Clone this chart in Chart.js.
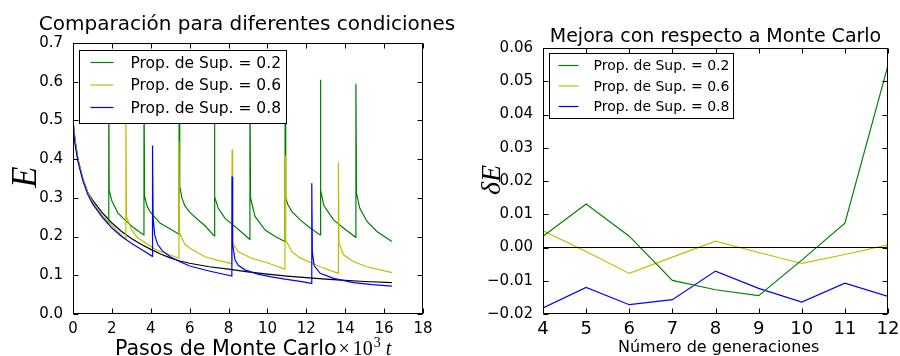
<!DOCTYPE html>
<html lang="es">
<head>
    <meta charset="UTF-8">
    <title>Comparación para diferentes condiciones</title>
    <style>
        body { margin: 0; background: #fff; }
        #wrap { position: relative; width: 900px; height: 356px; }
        canvas { position: absolute; top: 0; }
        #izq { left: 0; }
        #der { left: 460px; }
    </style>
</head>
<body>

<div id="wrap">
    <canvas id="izq" width="470" height="356"></canvas>
    <canvas id="der" width="440" height="356"></canvas>
</div>

<script src="https://cdn.jsdelivr.net/npm/chart.js"></script>

<script>
    // ---- panel izquierdo: E contra pasos de Monte Carlo (x10^3) ----
    const pasos_02 = [0, 0.1, 0.25, 0.5, 0.75, 1.0, 1.25, 1.5, 1.83,
        1.84, 1.86, 2.0, 2.3, 2.58, 3.09, 3.64,
        3.65, 3.68, 3.8, 3.95, 4.47, 4.98, 5.45,
        5.46, 5.49, 5.6, 5.75, 6.0, 6.44, 6.79, 7.26,
        7.27, 7.3, 7.47, 7.82, 8.33, 8.7, 9.09,
        9.1, 9.13, 9.36, 9.88, 10.4, 10.9,
        10.91, 10.94, 11.05, 11.25, 11.68, 12.2, 12.71,
        12.72, 12.75, 12.9, 13.4, 13.91, 14.54,
        14.55, 14.58, 14.75, 15.12, 15.63, 16.4];
    const energia_02 = [0.50, 0.45, 0.40, 0.35, 0.315, 0.29, 0.27, 0.255, 0.233,
        0.64, 0.32, 0.292, 0.262, 0.247, 0.224, 0.204,
        0.63, 0.305, 0.28, 0.265, 0.235, 0.220, 0.206,
        0.62, 0.33, 0.30, 0.28, 0.263, 0.243, 0.228, 0.202,
        0.615, 0.303, 0.273, 0.247, 0.226, 0.21, 0.193,
        0.61, 0.30, 0.252, 0.217, 0.20, 0.187,
        0.608, 0.30, 0.283, 0.265, 0.243, 0.222, 0.204,
        0.605, 0.32, 0.28, 0.243, 0.222, 0.198,
        0.595, 0.312, 0.273, 0.239, 0.213, 0.187];

    const pasos_06 = [0, 0.1, 0.25, 0.5, 0.75, 1.0, 1.5, 2.0, 2.4, 2.71,
        2.72, 2.75, 3.01, 3.3, 3.61, 4.3, 4.98, 5.44,
        5.45, 5.48, 5.75, 6.01, 6.79, 7.5, 8.17,
        8.18, 8.21, 8.5, 9.19, 10.05, 10.9,
        10.91, 10.94, 11.25, 11.68, 12.71, 13.64,
        13.65, 13.68, 13.91, 14.43, 15.12, 16.4];
    const energia_06 = [0.50, 0.45, 0.40, 0.35, 0.315, 0.29, 0.255, 0.228, 0.208, 0.193,
        0.52, 0.252, 0.217, 0.198, 0.187, 0.165, 0.153, 0.144,
        0.445, 0.209, 0.180, 0.170, 0.148, 0.138, 0.130,
        0.425, 0.183, 0.161, 0.144, 0.131, 0.116,
        0.41, 0.191, 0.161, 0.145, 0.122, 0.105,
        0.391, 0.183, 0.153, 0.135, 0.122, 0.107];

    const pasos_08 = [0, 0.1, 0.25, 0.5, 0.75, 1.0, 1.5, 2.0, 2.5, 3.0, 3.5, 4.08,
        4.09, 4.12, 4.2, 4.35, 4.6, 5.0, 5.5, 6.0, 7.0, 8.17,
        8.18, 8.21, 8.33, 8.5, 8.84, 9.5, 10.2, 10.9, 11.6, 12.27,
        12.28, 12.31, 12.4, 12.71, 13.4, 14.43, 15.4, 16.4];
    const energia_08 = [0.49, 0.44, 0.395, 0.345, 0.31, 0.285, 0.25, 0.222, 0.20, 0.183, 0.167, 0.149,
        0.435, 0.25, 0.205, 0.18, 0.163, 0.148, 0.135, 0.124, 0.111, 0.098,
        0.355, 0.18, 0.14, 0.126, 0.114, 0.103, 0.096, 0.090, 0.085, 0.079,
        0.338, 0.16, 0.125, 0.105, 0.092, 0.081, 0.076, 0.072];

    const pasos_mc = [0, 0.1, 0.25, 0.5, 0.75, 1.0, 1.25, 1.5, 2.0, 2.5, 3.0, 3.5, 4.0, 4.5, 5.0,
        5.5, 6.0, 7.0, 8.0, 9.0, 10.0, 11.0, 12.0, 13.0, 14.0, 15.0, 16.4];
    const energia_mc = [0.50, 0.45, 0.40, 0.35, 0.315, 0.295, 0.278, 0.262, 0.235, 0.213, 0.195, 0.180,
        0.167, 0.155, 0.145, 0.137, 0.131, 0.122, 0.116, 0.109, 0.103, 0.098, 0.094, 0.090,
        0.087, 0.084, 0.081];

    // ---- panel derecho: mejora respecto a Monte Carlo ----
    const generaciones = [4, 5, 6, 7, 8, 9, 10, 11, 12];
    const mejora_02 = [0.0034, 0.0131, 0.0034, -0.0099, -0.0127, -0.0145, -0.0038, 0.0073, 0.0548];
    const mejora_06 = [0.0050, -0.0012, -0.0078, -0.0029, 0.0019, -0.0015, -0.0048, -0.0021, 0.0008];
    const mejora_08 = [-0.0182, -0.0120, -0.0172, -0.0157, -0.0071, -0.0123, -0.0164, -0.0107, -0.0147];
    const base_gen = [4, 12];
    const base_mejora = [0, 0];

    const etiquetas = ['Prop. de Sup. = 0.2', 'Prop. de Sup. = 0.6', 'Prop. de Sup. = 0.8'];
    const colores = ['#008000', '#bfbf00', '#0000ff'];

    const puntos = (xs, ys) => xs.map((x, i) => ({x: x, y: ys[i]}));

    function linea(label, xs, ys, color, order, enLeyenda) {
        return {
            label: label, data: puntos(xs, ys), borderColor: color, backgroundColor: color,
            borderWidth: 1.2, pointRadius: 0, tension: 0, fill: false, order: order, enLeyenda: enLeyenda
        };
    }

    // marco, ticks hacia dentro, titulo, leyenda y etiquetas de ejes
    const marco = {
        id: 'marco',
        afterDraw(chart, args, o) {
            const {ctx, chartArea: a, scales} = chart;
            const L = Math.round(a.left) + 0.5, R = Math.round(a.right) - 0.5;
            const T = Math.round(a.top) + 0.5, B = Math.round(a.bottom) - 0.5;
            ctx.save();
            ctx.strokeStyle = '#000';
            ctx.lineWidth = 1;
            ctx.beginPath();
            scales.x.ticks.forEach(t => {
                const p = Math.round(scales.x.getPixelForValue(t.value)) + 0.5;
                ctx.moveTo(p, B); ctx.lineTo(p, B - 5);
                ctx.moveTo(p, T); ctx.lineTo(p, T + 5);
            });
            scales.y.ticks.forEach(t => {
                const p = Math.round(scales.y.getPixelForValue(t.value)) + 0.5;
                ctx.moveTo(L, p); ctx.lineTo(L + 5, p);
                ctx.moveTo(R, p); ctx.lineTo(R - 5, p);
            });
            ctx.stroke();
            ctx.strokeRect(L, T, R - L, B - T);

            // leyenda
            const lg = o.leyenda;
            const lx = Math.round(a.left + lg.x) + 0.5, ly = Math.round(a.top + lg.y) + 0.5;
            ctx.fillStyle = '#fff';
            ctx.fillRect(lx, ly, lg.w, lg.h);
            ctx.strokeRect(lx, ly, lg.w, lg.h);
            ctx.font = lg.font;
            ctx.textAlign = 'left';
            ctx.textBaseline = 'middle';
            chart.data.datasets.filter(d => d.enLeyenda).forEach((d, i) => {
                const yy = ly + lg.primera + i * lg.paso;
                ctx.strokeStyle = d.borderColor;
                ctx.lineWidth = 1.2;
                ctx.beginPath();
                ctx.moveTo(lx + lg.l0, yy); ctx.lineTo(lx + lg.l1, yy);
                ctx.stroke();
                ctx.fillStyle = '#000';
                ctx.fillText(d.label, lx + lg.tx, yy + 1);
            });

            // titulo
            ctx.fillStyle = '#000';
            ctx.textAlign = 'center';
            ctx.textBaseline = 'alphabetic';
            ctx.font = o.titulo.font;
            ctx.fillText(o.titulo.texto, (a.left + a.right) / 2 + (o.titulo.dx || 0), o.titulo.y);

            // etiqueta x: partes encadenadas una tras otra
            ctx.textAlign = 'left';
            let cx = o.ejeX.x;
            o.ejeX.partes.forEach(p => {
                ctx.font = p.font;
                cx += p.gap || 0;
                ctx.fillText(p.texto, cx, o.ejeX.y + (p.dy || 0));
                cx += ctx.measureText(p.texto).width;
            });

            // etiqueta y (rotada)
            const ey = o.ejeY;
            ctx.translate(ey.x, ey.y);
            ctx.rotate(-Math.PI / 2);
            ctx.textAlign = 'center';
            ctx.font = ey.font;
            ctx.fillText(ey.texto, 0, 0);
            ctx.restore();
        }
    };

    const fuenteTicks = (size) => ({family: 'DejaVu Sans', size: size});

    new Chart(document.getElementById('izq'), {
        type: 'line',
        data: {
            datasets: [
                linea(etiquetas[0], pasos_02, energia_02, colores[0], 2, true),
                linea(etiquetas[1], pasos_06, energia_06, colores[1], 1, true),
                linea(etiquetas[2], pasos_08, energia_08, colores[2], 0, true),
                linea('Monte Carlo', pasos_mc, energia_mc, '#000000', 3, false),
            ],
        },
        options: {
            responsive: false,
            animation: false,
            devicePixelRatio: 1,
            events: [],
            layout: {autoPadding: false, padding: {top: 43, right: 47, bottom: 0, left: 0}},
            scales: {
                x: {
                    type: 'linear', min: 0, max: 18,
                    grid: {display: false}, border: {display: false},
                    ticks: {stepSize: 2, color: '#000', font: fuenteTicks(15), padding: -2, maxRotation: 0, autoSkip: false},
                    afterFit: s => { s.height = 42; }
                },
                y: {
                    type: 'linear', min: 0, max: 0.7,
                    grid: {display: false}, border: {display: false},
                    ticks: {stepSize: 0.1, color: '#000', font: fuenteTicks(15), padding: 2,
                        callback: v => v.toFixed(1)},
                    afterFit: s => { s.width = 73; }
                }
            },
            plugins: {
                legend: {display: false},
                tooltip: {enabled: false},
                marco: {
                    titulo: {texto: 'Comparación para diferentes condiciones', font: '20px "DejaVu Sans"', y: 30, dx: -1},
                    leyenda: {x: 6, y: 7, w: 207, h: 73, primera: 12, paso: 22.5, l0: 11, l1: 34, tx: 51,
                        font: '15.5px "DejaVu Sans"'},
                    ejeX: {
                        x: 115, y: 355,
                        partes: [
                            {texto: 'Pasos de Monte Carlo', font: '20.6px "DejaVu Sans"'},
                            {texto: '×', font: '20px "Liberation Serif"', gap: 2},
                            {texto: '10', font: '20px "Liberation Serif"', gap: 3},
                            {texto: '3', font: '14px "Liberation Serif"', dy: -8, gap: 1},
                            {texto: 't', font: 'italic 20px "Liberation Serif"', gap: 5},
                        ]
                    },
                    ejeY: {texto: 'E', font: 'italic 35px "Liberation Serif"', x: 36, y: 177}
                }
            }
        },
        plugins: [marco]
    });

    new Chart(document.getElementById('der'), {
        type: 'line',
        data: {
            datasets: [
                linea(etiquetas[0], generaciones, mejora_02, colores[0], 1, true),
                linea(etiquetas[1], generaciones, mejora_06, colores[1], 2, true),
                linea(etiquetas[2], generaciones, mejora_08, colores[2], 3, true),
                linea('referencia', base_gen, base_mejora, '#000000', 0, false),
            ],
        },
        options: {
            responsive: false,
            animation: false,
            devicePixelRatio: 1,
            events: [],
            layout: {autoPadding: false, padding: {top: 48, right: 12, bottom: 0, left: 0}},
            scales: {
                x: {
                    type: 'linear', min: 4, max: 12,
                    grid: {display: false}, border: {display: false},
                    ticks: {stepSize: 1, color: '#000', font: fuenteTicks(18), padding: -3, maxRotation: 0, autoSkip: false},
                    afterFit: s => { s.height = 42; }
                },
                y: {
                    type: 'linear', min: -0.02, max: 0.06,
                    grid: {display: false}, border: {display: false},
                    ticks: {stepSize: 0.01, color: '#000', font: fuenteTicks(15), padding: 2,
                        callback: v => Math.abs(v) < 1e-9 ? '0.00' : (v < 0 ? '\u2212' : '') + Math.abs(v).toFixed(2)},
                    afterFit: s => { s.width = 83; }
                }
            },
            plugins: {
                legend: {display: false},
                tooltip: {enabled: false},
                marco: {
                    titulo: {texto: 'Mejora con respecto a Monte Carlo', font: '19px "DejaVu Sans"', y: 42},
                    leyenda: {x: 6, y: 5, w: 184, h: 65, primera: 12, paso: 20.5, l0: 9, l1: 29, tx: 44,
                        font: '14px "DejaVu Sans"'},
                    ejeX: {
                        x: 618 - 460, y: 352,
                        partes: [{texto: 'Número de generaciones', font: '16px "DejaVu Sans"'}]
                    },
                    ejeY: {texto: 'δE', font: 'italic 28px "Liberation Serif"', x: 500 - 460, y: 180}
                }
            }
        },
        plugins: [marco]
    });
</script>
</body>
</html>
